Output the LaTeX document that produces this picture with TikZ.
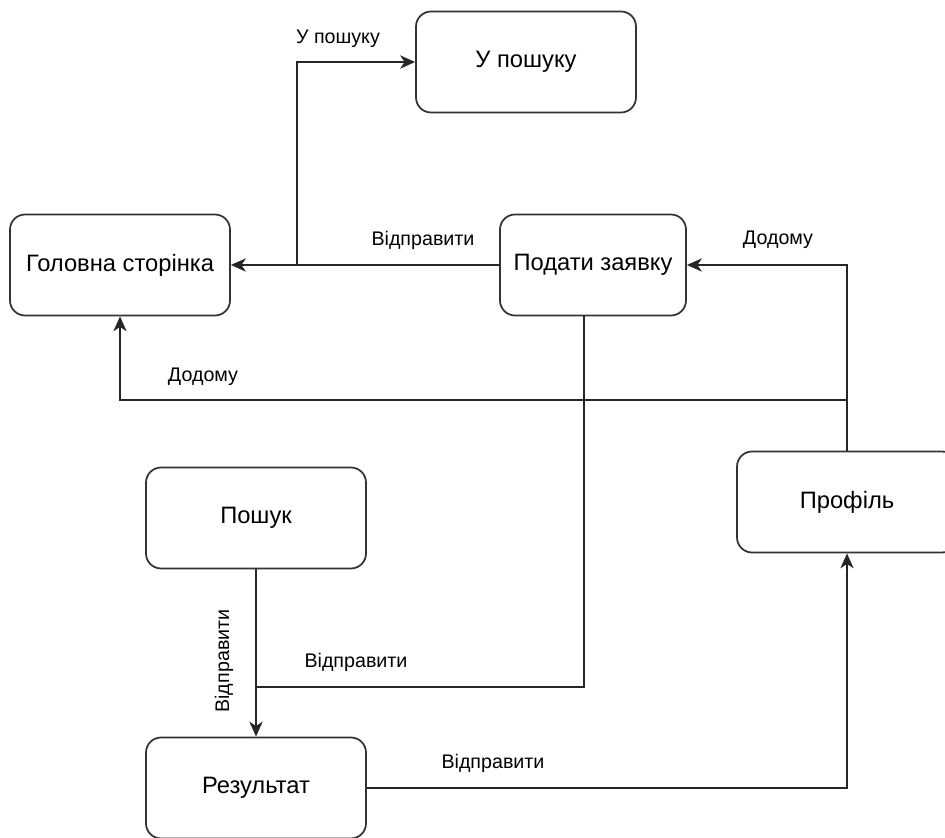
\documentclass[tikz,border=0pt]{standalone}
\usepackage{fontspec}
\setmainfont{Liberation Sans}
\usetikzlibrary{arrows.meta,calc}
\begin{document}
\begin{tikzpicture}[x=0.02cm,y=-0.02cm,
 box/.style={draw=black!80, line width=1pt, rounded corners=0.3cm, fill=white, minimum width=4.4cm, minimum height=2.02cm, inner sep=0pt, font=\fontsize{13.5}{16}\selectfont},
 conn/.style={draw=black!85, line width=1.1pt, -{Stealth[length=8.5pt,width=7.5pt,inset=2.5pt]}},
 plain/.style={draw=black!85, line width=1.1pt},
 lbl/.style={font=\fontsize{11.2}{13}\selectfont, inner sep=0pt}]
\useasboundingbox (0,0) rectangle (945,837);
\node[box] (up) at (526,62) {У пошуку};
\node[box] (gs) at (120,265) {Головна сторінка};
\node[box, minimum width=3.72cm] (pz) at (593,265) {Подати заявку};
\node[box] (pr) at (847,502) {Профіль};
\node[box] (ps) at (256,518) {Пошук};
\node[box] (rs) at (256,788) {Результат};
\coordinate (j1) at (297,265);
\coordinate (j2) at (256,687);
\coordinate (pzb) at (584,316);
\coordinate (prt) at (847,400);

\draw[conn] (pz.west) -- (gs.east);
\draw[conn] (j1) |- (up.west);
\draw[conn] (pr.north) -- (prt) -| (gs.south);
\draw[conn] (pr.north) |- (pz.east);
\draw[conn] (ps.south) -- (rs.north);
\draw[plain] (pzb) |- (j2);
\draw[conn] (rs.east) -| (pr.south);

\node[lbl] (l1) at (423,240) {Відправити};
\node[lbl] (l2) at (338,39) {У пошуку};
\node[lbl] (l3) at (203,377) {Додому};
\node[lbl] (l4) at (778,240) {Додому};
\node[lbl] (l5) at (356,662) {Відправити};
\node[lbl, rotate=90] (l6) at (224,661) {Відправити};
\node[lbl] (l7) at (493,763) {Відправити};
\end{tikzpicture}
\end{document}
